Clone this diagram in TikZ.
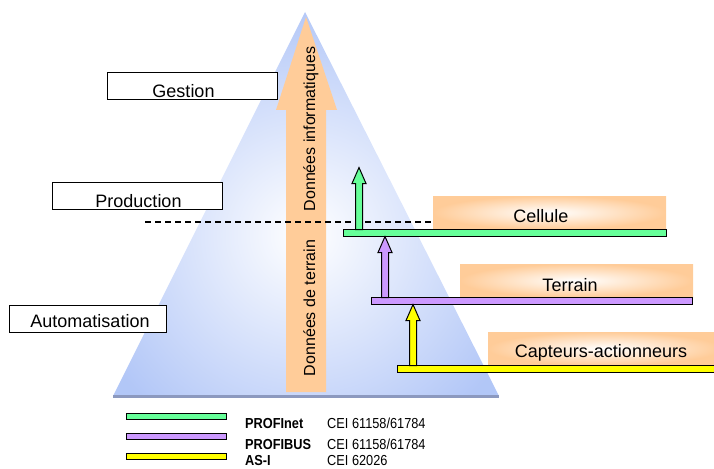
\documentclass[tikz,border=0pt]{standalone}
\usepackage{fontspec}
\setmainfont{Liberation Sans}
\newfontfamily\legendfont[FakeStretch=0.88]{Liberation Sans}
\usetikzlibrary{calc}
\definecolor{pyrblue}{rgb}{0.70,0.78,0.97}
\definecolor{pyrshadow}{rgb}{0.55,0.60,0.75}
\definecolor{peach}{rgb}{1,0.8,0.6}
\definecolor{netgreen}{rgb}{0.4,1,0.6}
\definecolor{buspurple}{rgb}{0.8,0.6,1}
\definecolor{asiyellow}{rgb}{1,1,0}
% up arrow standing on a bus: from, to, colour
\newcommand{\busarrow}[3]{%
  \draw[fill=#3,line width=1pt] let \p1=(#1), \p2=(#2) in
    (\x1-3.5pt,\y1) -- (\x1-3.5pt,\y2-16pt) -- (\x1-7pt,\y2-16pt) -- (\x1,\y2)
    -- (\x1+7pt,\y2-16pt) -- (\x1+3.5pt,\y2-16pt) -- (\x1+3.5pt,\y1) -- cycle;}

\begin{document}
\begin{tikzpicture}[x=1pt,y=-1pt,
    levelbox/.style={draw,line width=1pt,fill=white,inner sep=0pt,outer sep=0pt,minimum height=27pt,text depth=0pt,anchor=north west,font=\fontsize{18}{18}\selectfont},
    layerbox/.style={inner sep=0pt,outer sep=0pt,minimum height=33pt,minimum width=233pt,text depth=0pt,inner color=white,outer color=peach,anchor=south west,font=\fontsize{18}{18}\selectfont},
    busline/.style={draw,line width=1pt,inner sep=0pt,outer sep=0pt,minimum height=7pt,anchor=north west},
    legendbar/.style={draw,line width=1pt,inner sep=0pt,outer sep=0pt,minimum height=6pt,minimum width=100pt,anchor=north west},
    legendtext/.style={inner sep=0pt,anchor=base west,font=\legendfont\fontsize{14.5}{14.5}\selectfont}]
    \useasboundingbox (0,0) rectangle (714,468);
    % pyramid
    \begin{scope}
        \clip (305,12) -- (499,396) -- (113,396) -- cycle;
        \shade[inner color=white,outer color=pyrblue] (75,5) rectangle (535,465);
    \end{scope}
    \draw[pyrshadow,line width=2.5pt] (113,396.5) -- (499,396.5);
    \fill[peach] (286,392) -- (286,110) -- (276,110) -- (306,17) -- (337,110) -- (326,110) -- (326,392) -- cycle;
    \node[rotate=90,anchor=base,inner sep=0pt,font=\fontsize{16}{16}\selectfont] (infodata) at (315,129) {Données informatiques};
    \node[rotate=90,anchor=base,inner sep=0pt,font=\fontsize{16}{16}\selectfont] (fielddata) at (315,308) {Données de terrain};

    % levels
    \node[levelbox,minimum width=170pt,text height=23pt] (gestion) at (107,73) {Gestion\hspace*{17pt}};
    \node[levelbox,minimum width=170pt,text height=23pt] (production) at (52,182) {\hspace*{3pt}Production};
    \node[levelbox,minimum width=157pt,text height=18pt] (automatisation) at (9,305) {\hspace*{5pt}Automatisation};

    % networks
    \node[layerbox,text height=19pt] (cellule) at (433,229) {Cellule\hspace*{17pt}};
    \node[layerbox,text height=21pt] (terrain) at (460,297) {Terrain\hspace*{13pt}};
    \node[layerbox,text height=17pt] (capteurs) at (488,365) {Capteurs-actionneurs\hspace*{7pt}};
    \coordinate (cut) at (145,222);
    \draw[line width=1.2pt,dash pattern=on 6pt off 4pt] (cut) -- (cut -| cellule.west);

    \node[busline,fill=netgreen,minimum width=323pt] (profinet) at (343.5,229.5) {};
    \node[busline,fill=buspurple,minimum width=321pt] (profibus) at (371.5,297.5) {};
    \node[busline,fill=asiyellow,minimum width=330pt] (asi) at (397.5,365.5) {};
    \coordinate (netup) at ($(profinet.north west)+(15.5,-62)$);
    \busarrow{$(profinet.north west)+(15.5,0)$}{netup}{netgreen}
    \busarrow{$(profibus.north west)+(13.5,0)$}{profinet.south}{buspurple}
    \busarrow{$(asi.north west)+(15.5,0)$}{profibus.south}{asiyellow}

    % legend
    \foreach \bar/\base/\col/\name/\norm [count=\i] in {413/428/netgreen/PROFInet/{CEI 61158/61784},
            433/449/buspurple/PROFIBUS/{CEI 61158/61784}, 453/465/asiyellow/AS-I/{CEI 62026}} {
        \node[legendbar,fill=\col] (key\i) at (126.5,\bar.5) {};
        \node[legendtext] (name\i) at (245,\base) {\bfseries\name};
        \node[legendtext] (norm\i) at (327,\base) {\norm};
    }
\end{tikzpicture}
\end{document}
